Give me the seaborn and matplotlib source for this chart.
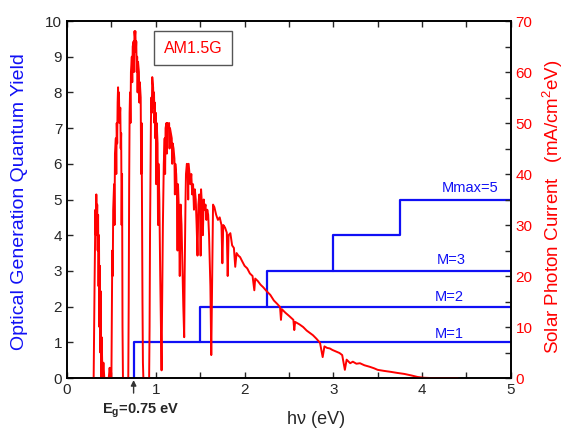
import matplotlib
matplotlib.use("Agg")
import matplotlib.pyplot as plt
import seaborn as sns
import pandas as pd
from matplotlib.ticker import MultipleLocator

# AM1.5G solar photon current per eV
energy_ev = [
    0.30, 0.31, 0.32, 0.325, 0.33, 0.335, 0.34, 0.345, 0.35, 0.355, 0.36, 0.365, 0.37, 0.375, 0.38,
    0.385, 0.39, 0.40, 0.41, 0.42, 0.47, 0.48, 0.49, 0.50, 0.505, 0.51, 0.515, 0.52, 0.53, 0.535,
    0.54, 0.55, 0.555, 0.56, 0.565, 0.57, 0.575, 0.58, 0.585, 0.59, 0.60, 0.605, 0.61, 0.615, 0.62,
    0.625, 0.63, 0.69, 0.695, 0.70, 0.705, 0.71, 0.715, 0.72, 0.73, 0.735, 0.74, 0.75, 0.755, 0.76,
    0.765, 0.77, 0.775, 0.78, 0.785, 0.79, 0.795, 0.80, 0.81, 0.815, 0.82, 0.83, 0.835, 0.84, 0.845,
    0.85, 0.855, 0.86, 0.925, 0.93, 0.935, 0.94, 0.945, 0.95, 0.955, 0.96, 0.965, 0.97, 0.975, 0.98,
    0.985, 0.99, 0.995, 1.00, 1.005, 1.01, 1.02, 1.025, 1.03, 1.04, 1.05, 1.06, 1.065, 1.07, 1.08,
    1.09, 1.10, 1.105, 1.11, 1.12, 1.125, 1.13, 1.14, 1.15, 1.155, 1.16, 1.17, 1.18, 1.185, 1.19,
    1.20, 1.21, 1.215, 1.22, 1.23, 1.24, 1.245, 1.25, 1.26, 1.27, 1.28, 1.29, 1.30, 1.31, 1.32,
    1.325, 1.335, 1.34, 1.35, 1.36, 1.365, 1.37, 1.38, 1.39, 1.40, 1.41, 1.42, 1.43, 1.44, 1.45,
    1.46, 1.47, 1.48, 1.49, 1.50, 1.505, 1.51, 1.52, 1.53, 1.54, 1.55, 1.56, 1.57, 1.58, 1.59,
    1.60, 1.615, 1.625, 1.635, 1.645, 1.66, 1.68, 1.70, 1.72, 1.74, 1.75, 1.76, 1.78, 1.80, 1.81,
    1.82, 1.84, 1.86, 1.88, 1.895, 1.91, 1.93, 1.95, 1.97, 2.00, 2.03, 2.06, 2.09, 2.11, 2.12,
    2.15, 2.18, 2.21, 2.25, 2.29, 2.33, 2.37, 2.40, 2.41, 2.42, 2.46, 2.50, 2.55, 2.56, 2.57,
    2.62, 2.66, 2.70, 2.74, 2.77, 2.81, 2.85, 2.88, 2.90, 2.93, 2.96, 2.99, 3.03, 3.07, 3.10,
    3.13, 3.15, 3.19, 3.22, 3.26, 3.30, 3.35, 3.41, 3.46, 3.50, 3.57, 3.65, 3.72, 3.80, 3.88,
    3.95, 4.02, 4.10, 4.40,
]
photon_current = [
    0, 18, 33, 28, 36, 30, 34, 25, 32, 18, 28, 10, 22, 5, 17,
    0, 8, 0, 3, 0, 0, 2, 0, 0, 12, 25, 20, 33, 38, 30,
    44, 47, 40, 50, 46, 54, 57, 52, 56, 50, 53, 45, 48, 30, 40,
    10, 0, 0, 15, 38, 52, 56, 50, 60, 63, 58, 65, 66, 60, 68,
    67, 68, 64, 66, 60, 63, 56, 62, 60, 54, 58, 55, 40, 50, 30,
    15, 3, 0, 0, 10, 28, 40, 50, 55, 52, 59, 58, 57, 53, 56,
    50, 54, 47, 52, 38, 50, 46, 30, 42, 35, 20, 8, 1.5, 12, 30,
    42, 47, 40, 49, 50, 44, 50, 49, 50, 45, 49, 48, 47, 42, 46,
    45, 43, 36, 42, 40, 35, 25, 38, 33, 20, 34, 30, 22, 14, 8,
    20, 35, 40, 42, 41, 35, 42, 40, 38, 40, 36, 38, 33, 37, 35,
    30, 24, 34, 36, 35, 24, 37, 34, 28, 35, 33, 34, 31, 33, 32,
    28, 18, 4.5, 20, 34, 33.5, 32, 31, 31.5, 30, 22.5, 30, 29.5, 28.5, 20,
    28, 28.4, 26, 25.5, 21.8, 24.5, 24, 23.7, 23, 22, 21.5, 20.5, 20, 17.2, 19.5,
    19, 18.3, 17.8, 17, 16.3, 15.2, 14.5, 13.9, 11.4, 13.5, 12.8, 12.2, 11.4, 9.4, 11,
    10.5, 10, 9.3, 8.8, 8.4, 7.7, 6.9, 4.1, 6.2, 5.9, 5.8, 5.5, 5.2, 4.9, 4.5,
    1.6, 3.6, 2.9, 3.2, 2.8, 2.9, 2.5, 2.2, 1.9, 1.6, 1.4, 1.2, 1.0, 0.8, 0.5,
    0.2, 0.05, 0, 0,
]

# quantum-yield staircases: threshold energies (multiples of Eg) and labels
eg = 0.75
step_thresholds = [0.75, 1.5, 2.25, 3.0, 3.75]
step_labels = ["M=1", "M=2", "M=3", "Mmax=5"]
label_pos_x = [4.31, 4.31, 4.33, 4.54]
label_pos_y = [1.23, 2.27, 3.30, 5.32]

BLUE = "#1010f5"

sns.set_style("ticks")
plt.rcParams["font.family"] = ["Liberation Sans", "DejaVu Sans"]
plt.rcParams["mathtext.fontset"] = "custom"
plt.rcParams["mathtext.rm"] = "Liberation Sans"
plt.rcParams["mathtext.bf"] = "Liberation Sans:bold"
plt.rcParams["xtick.direction"] = "in"
plt.rcParams["ytick.direction"] = "in"

fig = plt.figure(figsize=(5.69, 4.33), dpi=100)
ax = fig.add_axes([0.1178, 0.127, 0.780, 0.8245])
ax2 = ax.twinx()

# staircase lines (M=1, M=2, M=3 single steps; Mmax=5 multi-step)
t = step_thresholds
stairs = [
    ([t[0], t[0], 5], [0, 1, 1]),
    ([t[1], t[1], 5], [1, 2, 2]),
    ([t[2], t[2], 5], [2, 3, 3]),
    ([t[3], t[3], t[4], t[4], 5], [3, 4, 4, 5, 5]),
]
for xs, ys in stairs:
    d = pd.DataFrame({"x": xs, "y": ys})
    sns.lineplot(data=d, x="x", y="y", ax=ax, color=BLUE, lw=1.6,
                 sort=False, estimator=None)
for lab, lx, ly in zip(step_labels, label_pos_x, label_pos_y):
    ax.text(lx, ly, lab, color=BLUE, fontsize=10.5, ha="center", va="center")

spec = pd.DataFrame({"E": energy_ev, "J": photon_current})
sns.lineplot(data=spec, x="E", y="J", ax=ax2, color="red", lw=1.4,
             sort=False, estimator=None)

ax.set_xlim(0, 5)
ax.set_ylim(0, 10)
ax2.set_ylim(0, 70)
ax.xaxis.set_major_locator(MultipleLocator(1))
ax.xaxis.set_minor_locator(MultipleLocator(0.5))
ax.yaxis.set_major_locator(MultipleLocator(1))
ax2.yaxis.set_major_locator(MultipleLocator(10))
ax2.yaxis.set_minor_locator(MultipleLocator(5))
ax.tick_params(axis="x", which="both", top=True, length=4, width=1, labelsize=11)
ax.tick_params(axis="y", length=4, width=1, labelsize=11)
ax2.tick_params(axis="y", which="both", length=4, width=1, labelsize=11, labelcolor="red")
for a in (ax, ax2):
    for s in a.spines.values():
        s.set_linewidth(1.2)
        s.set_color("black")

ax.set_xlabel("h\u03bd (eV)", fontsize=13)
ax.xaxis.set_label_coords(0.56, -0.092)
ax.set_ylabel("Optical Generation Quantum Yield", fontsize=14, color=BLUE)
ax.yaxis.set_label_coords(-0.088, 0.495)
ax2.set_ylabel("Solar Photon Current   (mA/cm$^2$eV)", fontsize=13.5, color="red")
ax2.yaxis.set_label_coords(1.066, 0.48)

ax.text(1.42, 9.24, "AM1.5G", color="red", fontsize=11.5, ha="center", va="center",
        bbox=dict(boxstyle="square,pad=0.6", fc="white", ec="#555555", lw=1))

ax.annotate("", xy=(eg, 0.02), xytext=(eg, -0.5), annotation_clip=False,
            arrowprops=dict(arrowstyle="-|>", color="#333333", lw=1, mutation_scale=8))
ax.text(eg + 0.08, -0.93, r"$\mathbf{E_g}$=0.75 eV", fontsize=10.5, fontweight="bold",
        ha="center", va="center")

fig.savefig("out.png", dpi=100)
